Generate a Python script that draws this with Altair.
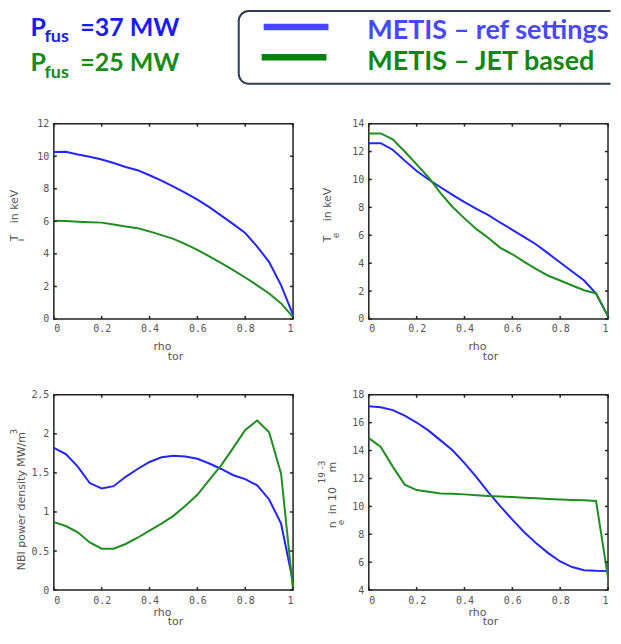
import altair as alt
import pandas as pd

# ---------------- data ----------------
rho = [0.0, 0.05, 0.1, 0.15, 0.2, 0.25, 0.3, 0.35, 0.4, 0.45, 0.5,
       0.55, 0.6, 0.65, 0.7, 0.75, 0.8, 0.85, 0.9, 0.95, 1.0]

ti_ref = [10.26, 10.27, 10.1, 9.97, 9.8, 9.58, 9.34, 9.14, 8.83, 8.5, 8.13,
          7.75, 7.33, 6.87, 6.35, 5.83, 5.28, 4.45, 3.5, 2.07, 0.26]
ti_jet = [6.04, 6.02, 5.98, 5.95, 5.92, 5.8, 5.68, 5.58, 5.38, 5.15, 4.92,
          4.6, 4.24, 3.85, 3.43, 3.0, 2.55, 2.07, 1.57, 0.96, 0.12]

te_ref = [12.6, 12.6, 12.13, 11.35, 10.6, 10.0, 9.44, 8.9, 8.38, 7.9, 7.45,
          6.9, 6.39, 5.87, 5.34, 4.7, 4.05, 3.4, 2.76, 1.83, 0.19]
te_jet = [13.3, 13.3, 12.88, 12.0, 11.08, 10.14, 9.02, 8.03, 7.21, 6.44, 5.81,
          5.1, 4.64, 4.1, 3.58, 3.1, 2.76, 2.4, 2.06, 1.83, 0.19]

nbi_ref = [1.82, 1.74, 1.58, 1.37, 1.30, 1.33, 1.45, 1.55, 1.64, 1.70, 1.72,
           1.71, 1.68, 1.62, 1.55, 1.47, 1.42, 1.34, 1.16, 0.85, 0.10]
nbi_jet = [0.87, 0.82, 0.74, 0.61, 0.53, 0.53, 0.59, 0.67, 0.76, 0.85, 0.95,
           1.08, 1.22, 1.41, 1.60, 1.82, 2.05, 2.17, 2.02, 1.49, 0.0]

ne_ref = [17.18, 17.11, 16.9, 16.5, 16.01, 15.43, 14.73, 14.02, 13.1, 12.1, 11.0,
          10.0, 9.05, 8.15, 7.35, 6.65, 6.05, 5.65, 5.42, 5.38, 5.36]
ne_jet = [14.89, 14.26, 12.85, 11.56, 11.17, 11.05, 10.93, 10.9, 10.86, 10.8, 10.74,
          10.7, 10.67, 10.62, 10.58, 10.53, 10.49, 10.46, 10.44, 10.39, 4.9]

x_ticks = [0, 0.2, 0.4, 0.6, 0.8, 1.0]
ti_ticks = [0, 2, 4, 6, 8, 10, 12]
te_ticks = [0, 2, 4, 6, 8, 10, 12, 14]
nbi_ticks = [0, 0.5, 1.0, 1.5, 2.0, 2.5]
ne_ticks = [4, 6, 8, 10, 12, 14, 16, 18]

series_names = ["ref", "jet"]

# ---------------- style ----------------
BLUE = "#2424ff"
GREEN = "#218c21"
W, H = 240, 196
LABEL = "#555555"
FRAME = "#222222"
one = pd.DataFrame({"k": [0]})


def txt(s, x, y, size=11, color=LABEL, angle=0, align="left",
        baseline="alphabetic", font="DejaVu Sans", weight="normal"):
    kw = dict(text=s, align=align, baseline=baseline, font=font,
              fontSize=size, color=color, fontWeight=weight)
    if angle:
        kw["angle"] = angle
    return alt.Chart(one).mark_text(**kw).encode(x=alt.value(x), y=alt.value(y))


def panel(yref, yjet, ydomain, yticks, extra, bottom_row):
    df = pd.DataFrame({
        "rho": rho + rho,
        "val": yref + yjet,
        "series": [series_names[0]] * len(rho) + [series_names[1]] * len(rho),
    })
    xs = alt.Scale(domain=[0, 1], nice=False, zero=False)
    ys = alt.Scale(domain=ydomain, nice=False, zero=False)
    ax_common = dict(title=None, ticks=False, domain=False, grid=False,
                     labelFont="DejaVu Sans Mono", labelFontSize=10,
                     labelColor=LABEL, format="~g", labelPadding=5)
    xax = alt.Axis(values=x_ticks, **ax_common)
    yax = alt.Axis(values=yticks, **ax_common)
    lines = alt.Chart(df).mark_line(strokeWidth=2).encode(
        x=alt.X("rho:Q", scale=xs, axis=xax),
        y=alt.Y("val:Q", scale=ys, axis=yax),
        color=alt.Color("series:N",
                        scale=alt.Scale(domain=series_names, range=[BLUE, GREEN]),
                        legend=None),
    )
    ytk = pd.DataFrame({"v": yticks})
    xtk = pd.DataFrame({"v": x_ticks})
    tick_kw = dict(color=FRAME, strokeWidth=1.5)
    t_left = alt.Chart(ytk).mark_rule(**tick_kw).encode(
        y=alt.Y("v:Q", scale=ys, axis=yax), x=alt.value(0), x2=alt.value(3))
    t_right = alt.Chart(ytk).mark_rule(**tick_kw).encode(
        y=alt.Y("v:Q", scale=ys, axis=yax), x=alt.value(W - 3), x2=alt.value(W))
    t_bot = alt.Chart(xtk).mark_rule(**tick_kw).encode(
        x=alt.X("v:Q", scale=xs, axis=xax), y=alt.value(H - 3), y2=alt.value(H))
    t_top = alt.Chart(xtk).mark_rule(**tick_kw).encode(
        x=alt.X("v:Q", scale=xs, axis=xax), y=alt.value(0), y2=alt.value(3))
    if bottom_row:
        xt = [txt("rho", 109, H + 23, baseline="middle", align="center"),
              txt("tor", 122, H + 32, baseline="middle", align="center")]
    else:
        xt = [txt("rho", 109, H + 28, baseline="middle", align="center"),
              txt("tor", 122, H + 38, baseline="middle", align="center")]
    return alt.layer(lines, t_left, t_right, t_bot, t_top, *xt, *extra).properties(
        width=W, height=H)


# ---------------- header (drawn inside panel 1, relative to its plot area) ----------------
HDR_BLUE = "#1a1aff"
HDR_GREEN = "#178a17"
LEG_BLUE = "#4848ff"
LEG_GREEN = "#108710"
box_x, box_x2, box_y, box_y2 = 185.5, 558.5, -113, -40
box_w, box_h = box_x2 - box_x, box_y2 - box_y

header = [
    alt.Chart(one).mark_rule(strokeOpacity=0, strokeWidth=1).encode(
        x=alt.value(-45), y=alt.value(-113.5), y2=alt.value(-100)),
    alt.Chart(one).mark_rect(
        fill="white", stroke="#2e3c55", strokeWidth=2,
        cornerRadiusTopLeft=10, cornerRadiusBottomLeft=10,
        strokeDash=[box_w - 10, box_h, 4000, 0]).encode(
        x=alt.value(box_x), x2=alt.value(box_x2), y=alt.value(box_y), y2=alt.value(box_y2)),
    alt.Chart(one).mark_rule(color=LEG_BLUE, strokeWidth=6.5).encode(
        x=alt.value(210.5), x2=alt.value(275.5), y=alt.value(-97)),
    alt.Chart(one).mark_rule(color="#078207", strokeWidth=6.5).encode(
        x=alt.value(208.5), x2=alt.value(273.5), y=alt.value(-66.5)),
    txt("METIS – ref settings", 314.5, -85, size=27, color=LEG_BLUE, font="Lato", weight="bold"),
    txt("METIS – JET based", 314.5, -54, size=27, color=LEG_GREEN, font="Lato", weight="bold"),
    txt("P", -23.5, -88, size=25, color=HDR_BLUE, font="Lato", weight="bold"),
    txt("fus", -9.5, -82, size=18, color=HDR_BLUE, font="Lato", weight="bold"),
    txt("=37 MW", 26.5, -88, size=25, color=HDR_BLUE, font="Lato", weight="bold"),
    txt("P", -23.5, -53, size=25, color=HDR_GREEN, font="Lato", weight="bold"),
    txt("fus", -9.5, -46, size=18, color=HDR_GREEN, font="Lato", weight="bold"),
    txt("=25 MW", 26.5, -53, size=25, color=HDR_GREEN, font="Lato", weight="bold"),
]

# ---------------- y titles ----------------
p1_t = [txt("T", -36, 118, angle=270), txt("i", -30, 118, size=9, angle=270),
        txt("in keV", -36, 100, angle=270)]
p2_t = [txt("T", -38, 119, angle=270), txt("e", -30, 115, size=9, angle=270),
        txt("in keV", -38, 98, angle=270)]
p3_t = [txt("NBI power density MW/m", -29, 176, angle=270),
        txt("3", -37, 40, size=9, angle=270)]
p4_t = [txt("n", -33, 134, angle=270), txt("e", -25, 131, size=9, angle=270),
        txt("in 10", -33, 120, angle=270), txt("19", -44, 89, size=9, angle=270),
        txt("m", -33, 78, angle=270), txt("-3", -44, 75, size=9, angle=270)]

p1 = panel(ti_ref, ti_jet, [0, 12], ti_ticks, p1_t + header, False)
p2 = panel(te_ref, te_jet, [0, 14], te_ticks, p2_t, False)
p3 = panel(nbi_ref, nbi_jet, [0, 2.5], nbi_ticks, p3_t, True)
p4 = panel(ne_ref, ne_jet, [4, 18], ne_ticks, p4_t, True)

chart = alt.concat(p1, p2, p3, p4, columns=2, spacing={"row": 76, "column": 76},
                   bounds="flush").properties(
    padding={"left": 0, "top": 0, "right": 0, "bottom": 0}
).configure_view(stroke=FRAME, strokeWidth=1.5)

chart.save("out.html", embed_options={"renderer": "svg", "actions": False})
